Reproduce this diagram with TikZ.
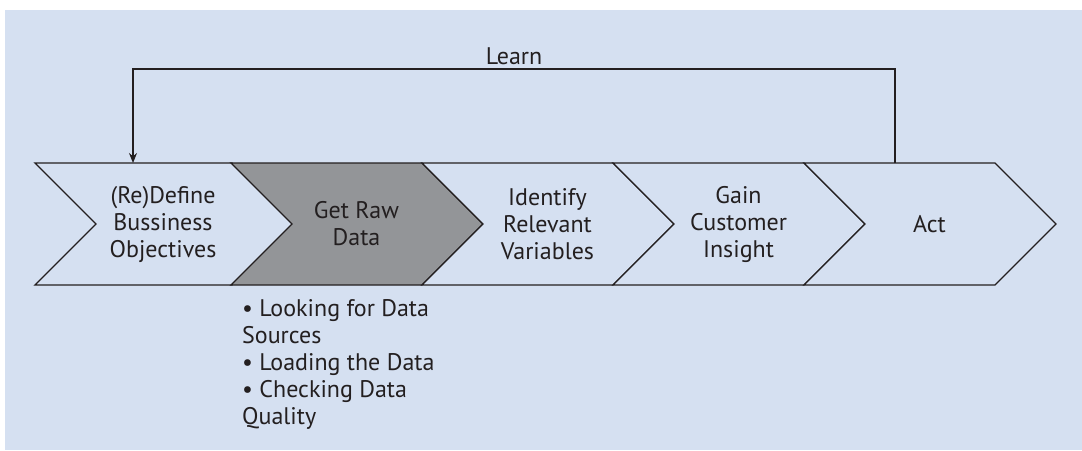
\documentclass[tikz,border=0pt]{standalone}
\usepackage{fontspec}
\setmainfont{PT Sans}
\usetikzlibrary{arrows.meta}

\definecolor{panelblue}{HTML}{D5E0F1}
\definecolor{stepgray}{HTML}{939598}
\definecolor{inkdark}{HTML}{231F20}

\begin{document}
\begin{tikzpicture}[x=1pt,y=-1pt,>={Stealth[length=10pt,width=8pt]},
    chevline/.style={draw=inkdark,line width=1.3pt,line join=miter},
    chevtext/.style={align=center,text=inkdark,font=\fontsize{24}{27}\selectfont},
    looptext/.style={text=inkdark,font=\fontsize{24}{27}\selectfont}]
    \useasboundingbox (0,0) rectangle (1082,450);
    \fill[panelblue] (5,10) rectangle (1082,450);

    % the five steps
    \draw[chevline,fill=panelblue] (35,163) -- (232,163) -- ++(61,61) -- ++(-61,61) -- (35,285) -- ++(61,-61) -- cycle;
    \draw[chevline,fill=stepgray] (231,163) -- ++(191,0) -- ++(61,61) -- ++(-61,61) -- ++(-191,0) -- ++(61,-61) -- cycle;
    \draw[chevline,fill=panelblue] (422,163) -- ++(191,0) -- ++(61,61) -- ++(-61,61) -- ++(-191,0) -- ++(61,-61) -- cycle;
    \draw[chevline,fill=panelblue] (613,163) -- ++(191,0) -- ++(61,61) -- ++(-61,61) -- ++(-191,0) -- ++(61,-61) -- cycle;
    \draw[chevline,fill=panelblue] (804,163) -- ++(191,0) -- ++(61,61) -- ++(-61,61) -- ++(-191,0) -- ++(61,-61) -- cycle;

    \node[chevtext] (define) at (163,224) {(Re)Define\\Bussiness\\Objectives};
    \node[chevtext] (rawdata) at (356.5,224) {Get Raw\\Data};
    \node[chevtext] (variables) at (547.5,224) {Identify\\Relevant\\Variables};
    \node[chevtext] (insight) at (738.5,224) {Gain\\Customer\\Insight};
    \node[chevtext] (act) at (929.5,224) {Act};

    \node[looptext,align=left,anchor=north west,inner sep=0pt] (rawtasks) at (242,299)
        {• Looking for Data\\Sources\\• Loading the Data\\• Checking Data\\Quality};

    % feedback loop
    \coordinate (actTop) at (895,163);
    \coordinate (defineTop) at (133,163);
    \draw[->,draw=inkdark,line width=1.3pt] (actTop) -- ++(0,-94) coordinate (bend)
        -- node[looptext,above] (learn) {Learn} (bend -| defineTop) -- (defineTop);
\end{tikzpicture}
\end{document}
